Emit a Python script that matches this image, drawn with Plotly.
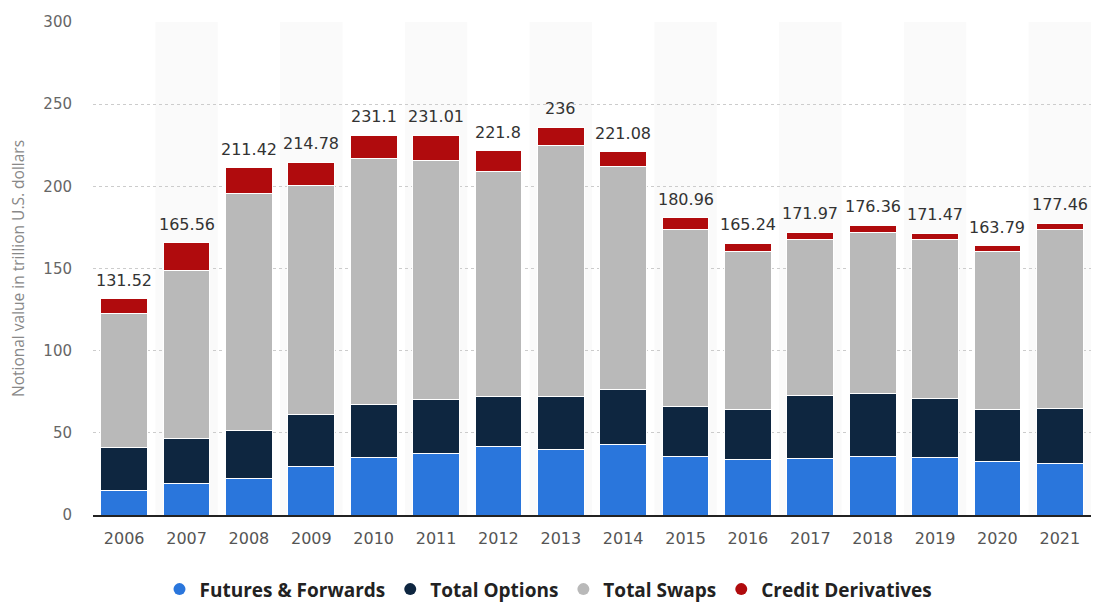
import plotly.graph_objects as go

years = ["2006", "2007", "2008", "2009", "2010", "2011", "2012", "2013",
         "2014", "2015", "2016", "2017", "2018", "2019", "2020", "2021"]
futures_forwards = [15.2, 18.9, 22.3, 29.4, 35.1, 37.5, 41.6, 39.6,
                    43.0, 35.9, 33.9, 34.3, 35.9, 34.9, 32.5, 31.5]
total_options = [25.8, 27.4, 29.4, 31.5, 31.9, 32.5, 30.4, 32.4,
                 33.5, 30.4, 30.0, 38.7, 38.2, 36.1, 31.4, 33.2]
total_swaps = [81.8, 102.7, 143.7, 139.9, 150.1, 146.0, 137.0, 152.6,
               135.3, 107.2, 96.4, 94.8, 97.9, 96.8, 96.4, 108.8]
credit_derivatives = [8.72, 16.56, 16.02, 13.98, 14.0, 15.01, 12.8, 11.4,
                      9.28, 7.46, 4.94, 4.17, 4.36, 3.67, 3.49, 3.96]
total_labels = ["131.52", "165.56", "211.42", "214.78", "231.1", "231.01", "221.8", "236",
                "221.08", "180.96", "165.24", "171.97", "176.36", "171.47", "163.79", "177.46"]

series = [
    ("Futures & Forwards", futures_forwards, "#2a76dc"),
    ("Total Options", total_options, "#0e2640"),
    ("Total Swaps", total_swaps, "#b9b9b9"),
    ("Credit Derivatives", credit_derivatives, "#b00b0d"),
]

fig = go.Figure()
for name, vals, color in series:
    fig.add_trace(go.Bar(
        x=years, y=vals, name=name, showlegend=False,
        marker=dict(color=color, line=dict(color="white", width=1)),
    ))
# legend entries with circular markers (no visible points)
for name, vals, color in series:
    fig.add_trace(go.Scatter(
        x=[years[0]], y=[None], mode="markers", name=name,
        marker=dict(symbol="circle", size=16, color=color),
        hoverinfo="skip",
    ))

annotations = []
for i, lab in enumerate(total_labels):
    annotations.append(dict(
        x=i, y=float(lab), xref="x", yref="y", text=lab, showarrow=False,
        yanchor="bottom", yshift=7,
        font=dict(family="DejaVu Sans", size=16, color="#333333"),
    ))

shapes = []
for i in range(1, len(years), 2):
    shapes.append(dict(type="rect", xref="x", yref="paper",
                       x0=i - 0.5, x1=i + 0.5, y0=0, y1=1,
                       fillcolor="#fafafa", line=dict(width=0), layer="below"))

fig.update_layout(
    barmode="stack",
    bargap=0.25,
    width=1097, height=605,
    margin=dict(l=93, r=6, t=22, b=90),
    paper_bgcolor="white",
    plot_bgcolor="white",
    shapes=shapes,
    annotations=annotations,
    legend=dict(orientation="h", xref="container", x=0.5, xanchor="center",
                yref="container", y=0.026, yanchor="middle",
                font=dict(family="Open Sans", size=19, color="#222222", weight="bold"),
                itemsizing="constant", traceorder="normal"),
    xaxis=dict(
        type="category", categoryorder="array", categoryarray=years,
        range=[-0.5, len(years) - 0.5],
        tickfont=dict(family="DejaVu Sans", size=16, color="#555555"),
        showline=True, linecolor="#222222", linewidth=2,
        showgrid=False, ticks="", ticklabelstandoff=8,
    ),
    yaxis=dict(
        range=[0, 300], tickvals=[0, 50, 100, 150, 200, 250, 300],
        tickfont=dict(family="DejaVu Sans", size=15, color="#666666"),
        showgrid=True, gridcolor="#cccccc", griddash="dot", gridwidth=1,
        zeroline=False, showline=False, ticks="",
        ticklabelstandoff=20,
        title=dict(text="Notional value in trillion U.S. dollars",
                   font=dict(family="Open Sans", size=15.5, color="#888888"),
                   standoff=14),
    ),
)

fig.write_html("out.html")
